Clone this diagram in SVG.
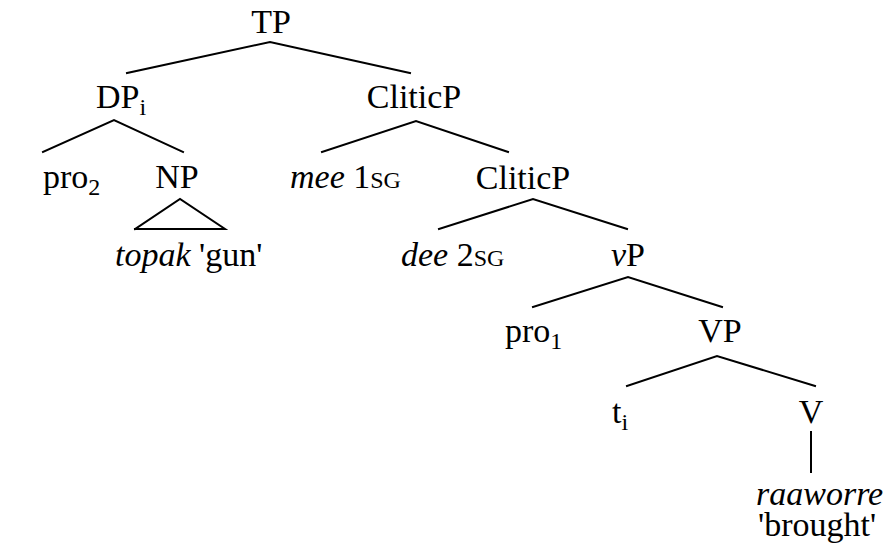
<svg xmlns="http://www.w3.org/2000/svg" width="888" height="546" viewBox="0 0 888 546">
  <style>
    text { font-family: "Liberation Serif", "Times New Roman", serif; font-size: 34px; fill: #000; }
    .c { text-anchor: middle; }
    .it { font-style: italic; }
    .sc { font-size: 24px; }
    .sub { font-size: 24px; }
    .edge { stroke: #000; stroke-width: 2; fill: none; stroke-linecap: square; }
  </style>
  <rect width="888" height="546" fill="#fff"/>

  <!-- tree branches -->
  <g id="connectors">
    <polyline class="edge" points="127,73 270,42 410,73"/>
    <polyline class="edge" points="43,152 114,120 183,152"/>
    <polyline class="edge" points="135,229 180,199 225,229 135,229"/>
    <polyline class="edge" points="322,152 416,121 508,152"/>
    <polyline class="edge" points="439,229 533,199 627,229"/>
    <polyline class="edge" points="533,307 628,277 722,307"/>
    <polyline class="edge" points="627,386 717,356 815,386"/>
    <line class="edge" x1="811" y1="432" x2="811" y2="472"/>
  </g>

  <g id="tp"><text class="c" x="271" y="33">TP</text></g>
  <g id="dp"><text x="96" y="108">DP<tspan class="sub" dy="7">i</tspan></text></g>
  <g id="cliticp1"><text class="c" x="414" y="108">CliticP</text></g>
  <g id="pro2"><text x="43" y="188">pro<tspan class="sub" dy="7">2</tspan></text></g>
  <g id="np"><text class="c" x="177" y="188">NP</text></g>
  <g id="topak"><text x="115" y="266"><tspan class="it">topak</tspan> 'gun'</text></g>
  <g id="mee"><text x="290" y="188"><tspan class="it">mee</tspan> 1<tspan class="sc">SG</tspan></text></g>
  <g id="cliticp2"><text class="c" x="523" y="189">CliticP</text></g>
  <g id="dee"><text x="401" y="266"><tspan class="it">dee</tspan> 2<tspan class="sc">SG</tspan></text></g>
  <g id="vp-little"><text x="611" y="266"><tspan class="it">v</tspan>P</text></g>
  <g id="pro1"><text x="505" y="342">pro<tspan class="sub" dy="7">1</tspan></text></g>
  <g id="vp"><text class="c" x="720" y="342">VP</text></g>
  <g id="trace"><text x="612" y="423">t<tspan class="sub" dy="7">i</tspan></text></g>
  <g id="v"><text class="c" x="811" y="423">V</text></g>
  <g id="verb">
    <text class="it" x="756" y="505">raaworre</text>
    <text x="758" y="536">'brought'</text>
  </g>
</svg>
